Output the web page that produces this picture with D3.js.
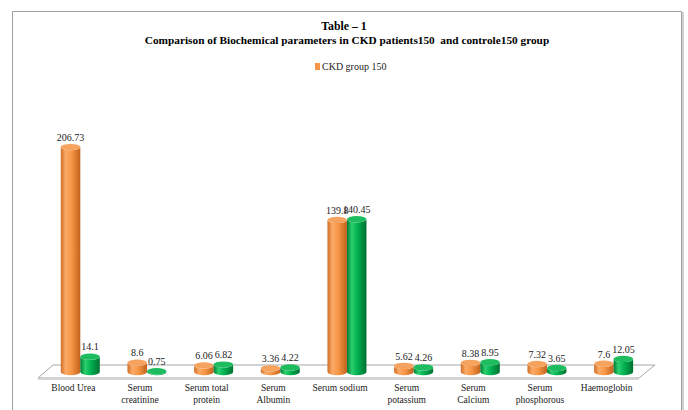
<!DOCTYPE html>
<html><head><meta charset="utf-8">
<script src="https://cdn.jsdelivr.net/npm/d3@7"></script>
<style>html,body{margin:0;padding:0;background:#fff;}svg{display:block;} text{white-space:pre;}</style>
</head><body>
<svg id="c" width="688" height="410"></svg>
<script>
const categories = ["Blood Urea","Serum creatinine","Serum total protein","Serum Albumin","Serum sodium","Serum potassium","Serum Calcium","Serum phosphorous","Haemoglobin"];
const categoryLines = [["Blood Urea"],["Serum","creatinine"],["Serum total","protein"],["Serum","Albumin"],["Serum sodium"],["Serum","potassium"],["Serum","Calcium"],["Serum","phosphorous"],["Haemoglobin"]];
const seriesNames = ["CKD group 150","Control group 150"];
const ckdValues = [206.73, 8.6, 6.06, 3.36, 139.8, 5.62, 8.38, 7.32, 7.6];
const controlValues = [14.1, 0.75, 6.82, 4.22, 140.45, 4.26, 8.95, 3.65, 12.05];
const titleLines = ["Table – 1","Comparison of Biochemical parameters in CKD patients150  and controle150 group"];

const svg = d3.select("#c");
const font = "'Liberation Serif','Times New Roman',serif";

// frame
svg.append("path").attr("d","M12.5,410 V11.5 H681.5 V410").attr("fill","none").attr("stroke","#a0a0a0").attr("stroke-width",1);
svg.append("line").attr("x1",683).attr("x2",683).attr("y1",12).attr("y2",410).attr("stroke","#d0d0d0").attr("stroke-width",2);

// title
svg.append("text").attr("x",344).attr("y",30).attr("text-anchor","middle").attr("font-family",font).attr("font-weight","bold").attr("font-size",11.8).text(titleLines[0]);
svg.append("text").attr("x",347).attr("y",44).attr("text-anchor","middle").attr("font-family",font).attr("font-weight","bold").attr("font-size",11.3).text(titleLines[1]);

// legend
svg.append("rect").attr("x",315).attr("y",63).attr("width",5).attr("height",7).attr("fill","#f79646");
svg.append("text").attr("x",322).attr("y",70).attr("font-family",font).attr("font-size",10).attr("fill","#222").text(seriesNames[0]);

// scales
const y = d3.scaleLinear().domain([0,250]).range([372,100]);
const x0 = d3.scaleBand().domain(categories).range([47,647]).padding(0);
const x1 = d3.scaleBand().domain(["ckd","control"]).range([13.8,52.8]).padding(0);

// gradients
const defs = svg.append("defs");
function grad(id, stops){
  const g = defs.append("linearGradient").attr("id",id).attr("x1","0").attr("x2","1").attr("y1","0").attr("y2","0");
  stops.forEach(s=>g.append("stop").attr("offset",s[0]).attr("stop-color",s[1]));
}
grad("gO",[[0,"#d06d25"],[0.25,"#fbaa66"],[0.55,"#f79646"],[1,"#c2621d"]]);
grad("gG",[[0,"#007c35"],[0.25,"#2dcf6e"],[0.55,"#00b050"],[1,"#007030"]]);
const topCol = {ckd:"#f6a35f", control:"#1dbd5f"};
const bodyFill = {ckd:"url(#gO)", control:"url(#gG)"};

// floor
const floorPts = [[38,378],[639,378],[655,365],[53,365]];
svg.append("polygon").attr("points",floorPts.map(p=>p.join(",")).join(" ")).attr("fill","#fff").attr("stroke","#a6a6a6").attr("stroke-width",1);
svg.append("line").attr("x1",38).attr("x2",639).attr("y1",379.5).attr("y2",379.5).attr("stroke","#d8d8d8");

const ry = 3.2;
const data = [];
categories.forEach((c,i)=>{
  data.push({cat:c, key:"ckd", v:ckdValues[i]});
  data.push({cat:c, key:"control", v:controlValues[i]});
});

const bars = svg.append("g");
data.forEach(d=>{
  const left = x0(d.cat)+x1(d.key);
  const w = x1.bandwidth();
  const rx = w/2;
  const cx = left+rx;
  const yb = y(0), yt = y(d.v);
  const g = bars.append("g");
  g.append("path")
    .attr("d",`M${left},${yt} L${left},${yb} A${rx},${ry} 0 0 0 ${left+w},${yb} L${left+w},${yt} A${rx},${ry} 0 0 1 ${left},${yt} Z`)
    .attr("fill",bodyFill[d.key]);
  g.append("ellipse").attr("cx",cx).attr("cy",yt).attr("rx",rx).attr("ry",ry).attr("fill",topCol[d.key]);
  g.append("text").attr("x",cx).attr("y",yt-ry-3).attr("text-anchor","middle")
    .attr("font-family",font).attr("font-size",10).attr("fill","#222").text(d.v);
});

// category labels
categories.forEach((c,i)=>{
  const cx = x0(c)+x0.bandwidth()/2-7;
  const t = svg.append("text").attr("text-anchor","middle").attr("font-family",font).attr("font-size",9.5).attr("fill","#222");
  categoryLines[i].forEach((ln,j)=>{
    t.append("tspan").attr("x",cx).attr("y",391+j*12).text(ln);
  });
});
</script>
</body></html>
